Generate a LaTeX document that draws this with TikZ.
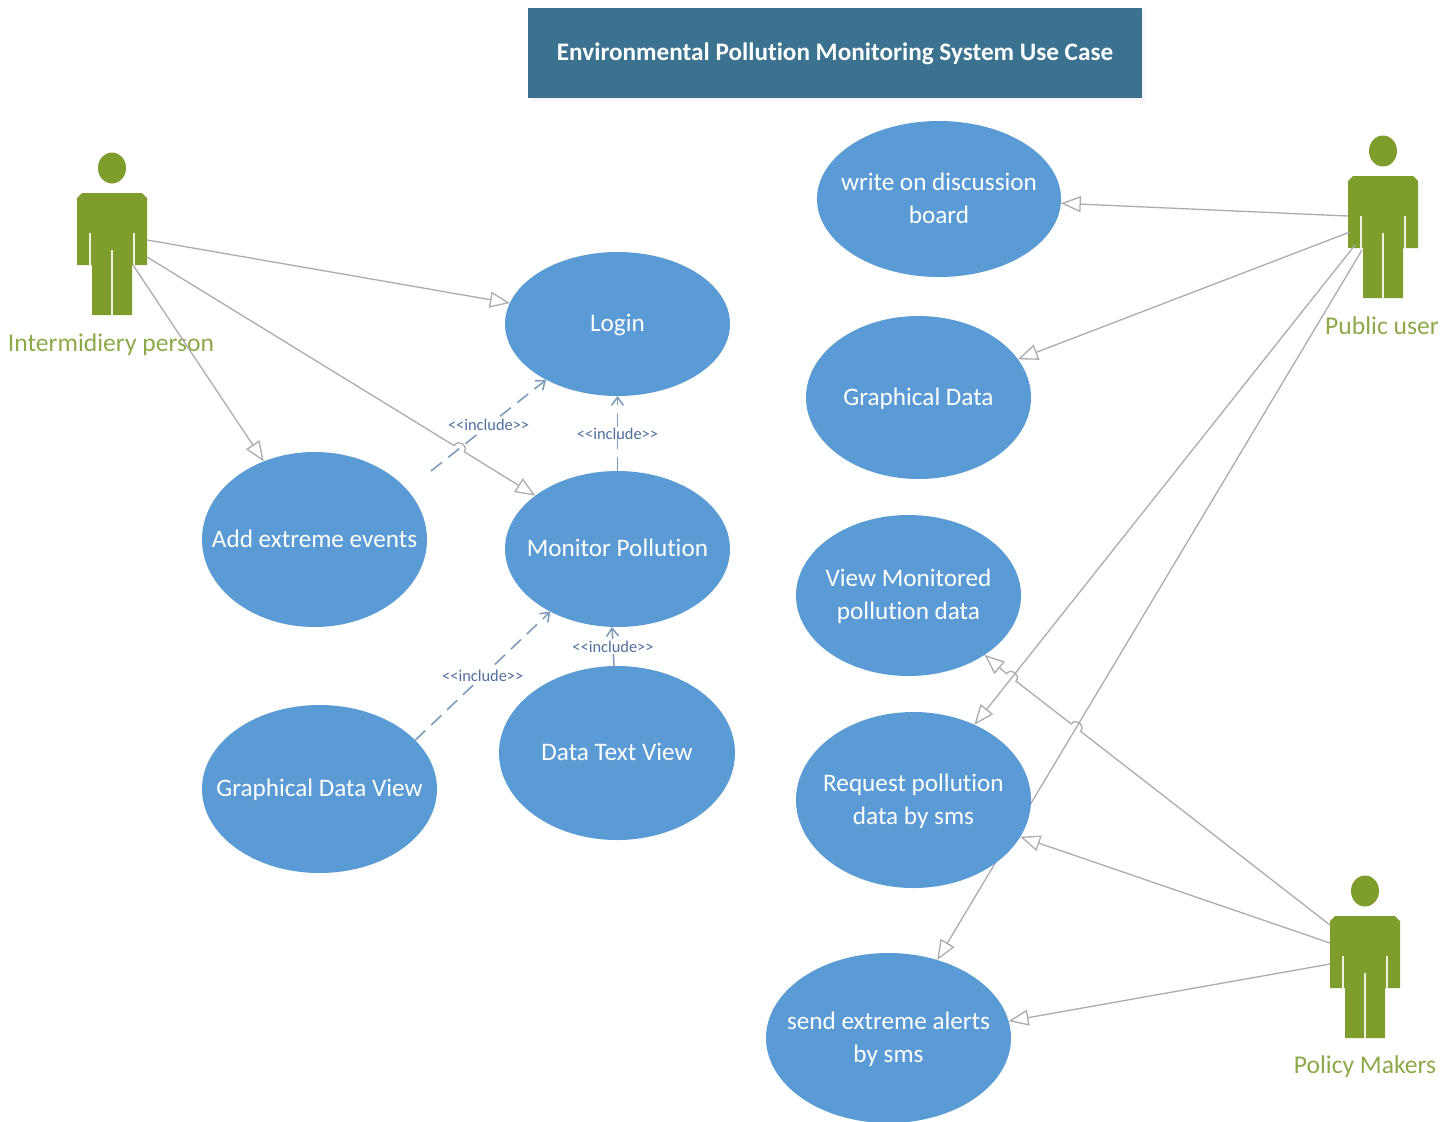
\documentclass[tikz,border=0pt]{standalone}
\usepackage{fontspec}
\setmainfont[Ligatures=NoCommon]{Carlito}
\usetikzlibrary{shapes.geometric,arrows.meta,backgrounds}
\definecolor{ucblue}{HTML}{5B9BD5}
\definecolor{actgreen}{HTML}{7F9D2C}
\definecolor{labgreen}{HTML}{8DA94A}
\definecolor{titleblue}{HTML}{3B7290}
\definecolor{linegray}{HTML}{ABABB2}
\definecolor{dashblue}{HTML}{7F9DBB}
\definecolor{inctext}{HTML}{4F6F9C}
\newcommand\uctext[1]{\makebox[0pt]{\raisebox{-0.58em}{\smash{\begin{tabular}{@{}c@{}}#1\end{tabular}}}}}
\newcommand\incl{<{}<include>{}>}
\tikzset{
  x=0.5pt,y=-0.5pt,
  usecase/.style 2 args={ellipse,fill=ucblue,draw=none,inner sep=0pt,outer sep=0pt,
    minimum width=#1*0.5pt,minimum height=#2*0.5pt,text=white,
    font=\fontsize{12.6}{16.5}\selectfont},
  assoc/.style={draw=linegray,line width=0.65pt,
    -{Triangle[open,length=10pt,width=8pt,fill=white]}},
  inclink/.style={draw=dashblue,line width=0.8pt,dash pattern=on 7pt off 4pt,
    -{Straight Barb[length=4pt,width=6pt]}},
  incllabel/.style={font=\fontsize{8.2}{9}\selectfont,text=inctext,inner sep=1pt},
  actorlabel/.style={font=\fontsize{12.8}{15}\selectfont,text=labgreen,inner sep=0pt},
  actorbody/.pic={
    \fill[actgreen] (0,0) ellipse [x radius=14,y radius=15.5];
    \fill[actgreen] (-30,25) -- (30,25) -- (35,30) -- (35,97) -- (20,97) -- (20,147)
       -- (-20,147) -- (-20,97) -- (-35,97) -- (-35,30) -- cycle;
    \draw[white!85!actgreen,line width=0.6pt] (-22,65) -- (-22,97) (22,65) -- (22,97) (0,82) -- (0,147);
  },
}
\begin{document}
\begin{tikzpicture}
\useasboundingbox (0,0) rectangle (1452,1121);
% title
\fill[blue!4!white] (531,11) rectangle (1145,101);
\node[fill=titleblue,minimum width=307pt,minimum height=45pt,inner sep=0pt,text=white,
  font=\fontsize{12.6}{15}\selectfont\bfseries,text depth=0pt,text height=0pt] (title) at (835,53) {\raisebox{-3.5pt}[0pt][0pt]{Environmental Pollution Monitoring System Use Case}};
% use cases
\node[usecase={244}{156}] (write) at (939,199) {\uctext{write on discussion\\board}};
\node[usecase={225}{163}] (gdata) at (918.5,397.5) {\uctext{Graphical Data}};
\node[usecase={225}{161}] (view) at (908.5,595.5) {\uctext{View Monitored\\pollution data}};
\node[usecase={235}{176}] (request) at (913.5,800) {\uctext{Request pollution\\data by sms}};
\node[usecase={245}{170}] (send) at (888.5,1038) {\uctext{send extreme alerts\\by sms}};
\node[usecase={225}{144}] (login) at (617.5,324) {\uctext{Login}};
\node[usecase={225}{156}] (monitor) at (617.5,549) {\uctext{Monitor Pollution}};
\node[usecase={225}{175}] (add) at (314.5,539.5) {\uctext{Add extreme events}};
\node[usecase={235}{168}] (gview) at (319.5,789) {\uctext{Graphical Data View}};
\node[usecase={236}{174}] (dtext) at (617,753) {\uctext{Data Text View}};
% actors
\pic at (112,168) {actorbody};
\pic at (1383,151) {actorbody};
\pic at (1365,891) {actorbody};
\node[actorlabel] (ipl) at (111,345) {Intermidiery person};
\node[actorlabel] (pul) at (1382,326) {Public user};
\node[actorlabel] (pml) at (1365,1067) {Policy Makers};
% connector ends on the actors
\coordinate (ip1) at (147,240);
\coordinate (ip2) at (147,257);
\coordinate (ip3) at (133,265);
\coordinate (pu1) at (1348,216);
\coordinate (pu2) at (1350,232);
\coordinate (pu3) at (1355,245);
\coordinate (pu4) at (1362,250);
\coordinate (pm1) at (1330,925);
\coordinate (pm2) at (1330,943);
\coordinate (pm3) at (1330,964);
\coordinate (inclstart) at (431,471);
% line jumps
\coordinate (ja) at (454.1,445.6);
\coordinate (jb) at (464.3,451.8);
\coordinate (jac) at (458.3,438.8);
\coordinate (jbc) at (468.5,445);
\coordinate (ka) at (1080.7,731.4);
\coordinate (kb) at (1071.3,724);
\coordinate (kac) at (1085.6,725.1);
\coordinate (kbc) at (1076.2,717.7);
\coordinate (ma) at (1016,681.1);
\coordinate (mb) at (1006.6,673.7);
\coordinate (mac) at (1020.9,674.8);
\coordinate (mbc) at (1011.5,667.4);
% associations
\draw[assoc] (ip1) -- (login.169.5);
\draw[assoc] (ip2) -- (ja) .. controls (jac) and (jbc) .. (jb) -- (monitor.147);
\draw[assoc] (ip3) -- (add.123.4);
\draw[assoc] (pu1) -- (write.-2);
\draw[assoc] (pu2) -- (gdata.21.7);
\draw[assoc] (pu3) -- (request.51.4);
\begin{scope}[on background layer]
\draw[assoc] (pu4) -- (send.58.1);
\end{scope}
\draw[assoc] (pm1) -- (ka) .. controls (kac) and (kbc) .. (kb) -- (ma) .. controls (mac) and (mbc) .. (mb) -- (view.-38.8);
\draw[assoc] (pm2) -- (request.-19.3);
\draw[assoc] (pm3) -- (send.8.6);
% includes
\draw[inclink] (inclstart) -- (login.218) node[pos=0.5,incllabel,fill=white] (l1) {\incl};
\draw[inclink] (monitor.90) -- (login.270) node[pos=0.5,incllabel] (l2) {\incl};
\draw[inclink] (gview.27.4) -- (monitor.223) node[pos=0.5,incllabel,fill=white] (l3) {\incl};
\draw[inclink] (dtext.92.6) -- (monitor.266.7) node[pos=0.5,incllabel,fill=white] (l4) {\incl};
\end{tikzpicture}
\end{document}
